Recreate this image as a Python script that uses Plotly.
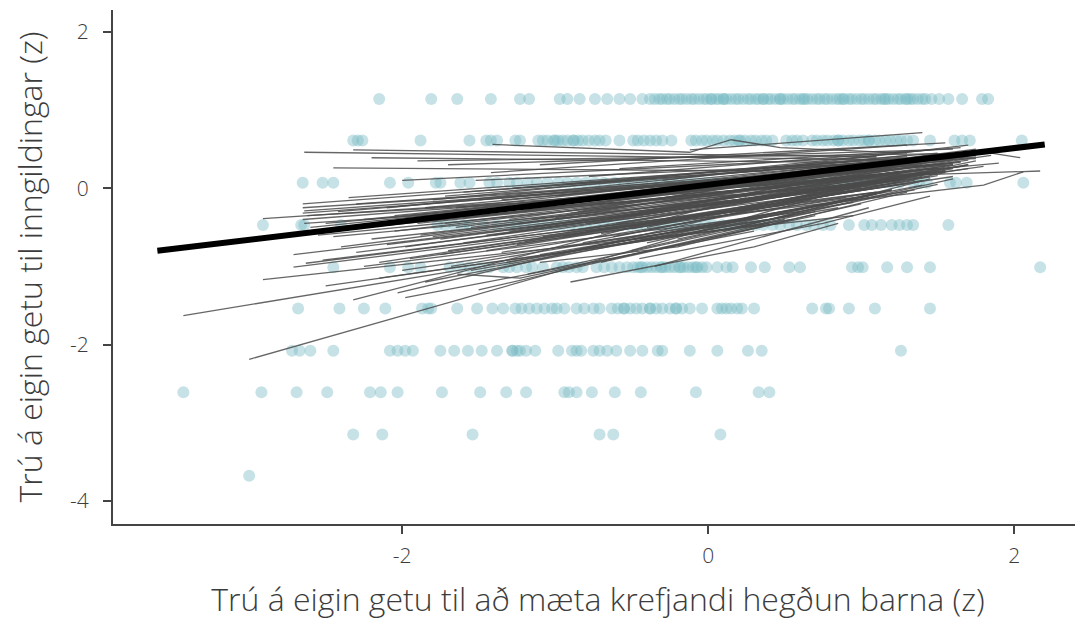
import plotly.graph_objects as go

# ---------------- data ----------------
x_ticks = [-2, 0, 2]
y_ticks = [2, 0, -2, -4]
x_title = "Trú á eigin getu til að mæta krefjandi hegðun barna (z)"
y_title = "Trú á eigin getu til inngildingar (z)"

# observed scores: y level -> x values
lvl_1 = [-2.15, -1.81, -1.64, -1.42, -1.23, -1.17, -0.97, -0.92, -0.84, -0.74, -0.66, -0.58, -0.51, -0.43, -0.38,
         -0.35, -0.32, -0.30, -0.27, -0.25, -0.22, -0.19, -0.17, -0.14, -0.11, -0.09, -0.06, -0.03, -0.01, 0.02,
         0.05, 0.07, 0.10, 0.12, 0.15, 0.18, 0.20, 0.23, 0.26, 0.28, 0.31, 0.33, 0.36, 0.39, 0.41, 0.44, 0.47,
         0.49, 0.52, 0.55, 0.57, 0.60, 0.63, 0.65, 0.68, 0.71, 0.73, 0.76, 0.78, 0.81, 0.84, 0.86, 0.89, 0.92,
         0.94, 0.97, 1.00, 1.02, 1.05, 1.08, 1.10, 1.13, 1.16, 1.18, 1.21, 1.24, 1.26, 1.29, 1.32, 1.34, 1.37,
         1.40, 1.42, 1.46, 0.10, 0.36, 0.62, 0.88, 1.15, 1.30, 0.02, 0.47, 1.51, 1.57, 1.66, 1.79, 1.83]
lvl_2 = [-2.32, -2.29, -2.26, -1.88, -1.56, -1.45, -1.42, -1.38, -1.26, -1.23,
         -1.11, -1.08, -1.05, -1.01, -0.98, -0.95, -0.92, -0.88, -0.85, -0.82, -0.78, -0.74, -0.71, -0.67,
         -0.58, -0.49, -0.46, -0.42, -0.38, -0.34, -0.30, -0.24,
         -0.11, -0.08, -0.04, -0.01, 0.03, 0.06, 0.10, 0.14, 0.17, 0.21, 0.24, 0.28, 0.31, 0.35, 0.38, 0.42,
         0.51, 0.55, 0.58, 0.62,
         0.68, 0.71, 0.75, 0.78, 0.82, 0.85, 0.88, 0.92, 0.95, 0.99, 1.02, 1.05, 1.09, 1.12, 1.16, 1.19, 1.23,
         1.26, 1.30, 1.34, 1.45, 1.61, 1.66, 1.71, 2.05, -1.00, -0.88, 0.20, 0.85, 1.05]
lvl_3 = [-2.65, -2.52, -2.45, -2.08, -1.96, -1.78, -1.75, -1.62, -1.56,
         -1.43, -1.38, -1.30, -1.25, -1.18, -1.12, -1.05, -0.98, -0.92, -0.86, -0.80, -0.74, -0.68, -0.61,
         -0.55, -0.50, -0.43, -0.37, -0.31, -0.25, -0.19, -0.13, -0.07, -0.01, 0.05, 0.11, 0.17, 0.23, 0.29,
         0.35, 0.41, 0.47, 0.53, 0.59, 0.65, 0.71, 0.77, 0.83, 0.89, 0.95, 1.01, 1.07, 1.13, 1.19, 1.25,
         1.34, 1.38, 1.43, 1.58, 1.62, 1.69, 2.06]
lvl_4 = [-2.91, -2.66, -2.64, -2.40, -1.77, -1.72, -1.66, -1.60, -1.56, -1.47, -1.38,
         -1.30, -1.25, -1.20, -1.14, -1.08, -1.02, -0.96, -0.90, -0.85, -0.80, -0.74, -0.68, -0.63, -0.57,
         -0.52, -0.46, -0.41, -0.35, -0.30, -0.24, -0.19, -0.13, -0.08, -0.02, 0.03, 0.09, 0.14, 0.20, 0.25,
         0.31, 0.36, 0.42, 0.47, 0.53, 0.58, 0.64, 0.69, 0.75, 0.80, 0.92, 1.02, 1.07, 1.13, 1.20, 1.25,
         1.30, 1.34, 1.57]
lvl_5 = [-2.45, -2.08, -1.96, -1.88, -1.69, -1.62, -1.56, -1.49, -1.43, -1.34, -1.30, -1.25, -1.19, -1.15,
         -1.08, -0.99, -0.95, -0.91, -0.86, -0.82, -0.73, -0.68, -0.63, -0.58, -0.53,
         -0.49, -0.46, -0.43, -0.40, -0.37, -0.34, -0.31, -0.28, -0.25, -0.22, -0.19, -0.16, -0.13, -0.10,
         -0.07, -0.04, -0.01, -0.44, -0.30, -0.18, -0.08,
         0.06, 0.12, 0.16, 0.28, 0.37, 0.53, 0.60, 0.94, 0.98, 1.01, 1.17, 1.30, 1.45, 2.17]
lvl_6 = [-2.68, -2.41, -2.25, -2.11, -1.87, -1.83, -1.81, -1.64, -1.51, -1.41, -1.34, -1.26, -1.22, -1.17,
         -1.12, -1.07, -1.02, -0.99, -0.94, -0.86, -0.81, -0.75, -0.71, -0.63, -0.59, -0.55, -0.51, -0.47,
         -0.43, -0.38, -0.34, -0.30, -0.25, -0.21, -0.17, -0.12, -0.04, 0.06, 0.09, 0.12, 0.15, 0.19, 0.22,
         0.30, 0.68, 0.77, 0.79, 0.92, 1.09, 1.45, -0.55, -0.38, -0.21]
lvl_7 = [-2.72, -2.67, -2.60, -2.45, -2.08, -2.03, -1.98, -1.93, -1.75, -1.66, -1.57, -1.48, -1.38, -1.28,
         -1.23, -1.19, -1.13, -0.98, -0.89, -0.86, -0.83, -0.75, -0.71, -0.66, -0.60, -0.51, -0.43, -0.33,
         -0.30, -0.12, 0.06, 0.26, 0.35, 1.26, -1.28, -1.25]
lvl_8 = [-3.43, -2.92, -2.69, -2.49, -2.21, -2.14, -2.03, -1.74, -1.49, -1.32, -1.19, -0.94, -0.91, -0.86,
         -0.76, -0.61, -0.44, -0.08, 0.33, 0.40]
lvl_9 = [-2.32, -2.13, -1.54, -0.71, -0.62, 0.08]
lvl_10 = [-3.00]
level_values = [1.14, 0.61, 0.07, -0.47, -1.01, -1.54, -2.08, -2.61, -3.15, -3.68]
level_points = [lvl_1, lvl_2, lvl_3, lvl_4, lvl_5, lvl_6, lvl_7, lvl_8, lvl_9, lvl_10]

# per-person fitted lines: list of vertices (x, y)
grey_lines = [
    [(-3.43, -1.63), (0.55, -0.35)],
    [(-3.00, -2.19), (1.25, 0.18)],
    [(-2.91, -0.39), (0.85, 0.10)],
    [(-2.91, -1.17), (0.95, -0.35)],
    [(-2.71, -0.85), (0.60, -0.08)],
    [(-2.65, -0.20), (1.40, 0.38)],
    [(-2.65, -0.25), (1.05, 0.22)],
    [(-2.64, -0.29), (1.60, 0.30)],
    [(-2.62, -0.35), (0.80, 0.04)],
    [(-2.64, 0.46), (1.30, 0.36)],
    [(-2.32, 0.49), (1.10, 0.40)],
    [(-2.20, 0.39), (0.90, 0.33)],
    [(-2.45, 0.26), (0.40, 0.22)],
    [(-2.40, -0.75), (1.20, 0.15)],
    [(-2.32, -1.43), (0.25, -0.12)],
    [(-2.03, -1.34), (0.90, 0.02)],
    [(-2.71, -1.01), (0.50, -0.22)],
    [(-2.63, -0.96), (1.10, -0.05)],
    [(-2.52, -0.92), (0.90, -0.12)],
    [(-2.55, -0.60), (1.30, 0.12)],
    [(-2.50, -0.45), (1.50, 0.25)],
    [(-2.42, -0.30), (1.20, 0.30)],
    [(-2.35, -0.52), (1.45, 0.20)],
    [(-2.30, -0.82), (1.00, -0.02)],
    [(-2.25, -0.40), (1.65, 0.33)],
    [(-2.20, -0.65), (0.70, -0.05)],
    [(-2.15, -0.95), (1.35, 0.10)],
    [(-2.10, -0.25), (1.30, 0.42)],
    [(-2.05, -0.55), (1.55, 0.28)],
    [(-2.00, -1.05), (0.60, -0.30)],
    [(-1.98, -0.75), (1.40, 0.15)],
    [(-1.95, -0.35), (1.75, 0.45)],
    [(-1.90, 0.35), (1.85, 0.45), (2.04, 0.39)],
    [(-1.88, -0.60), (1.20, 0.12)],
    [(-1.85, -1.20), (0.80, -0.20)],
    [(-1.80, -0.15), (1.50, 0.50)],
    [(-1.75, -0.85), (1.60, 0.15)],
    [(-1.72, -0.45), (1.10, 0.18)],
    [(-1.70, 0.30), (1.60, 0.50)],
    [(-1.68, -1.00), (1.35, -0.02)],
    [(-1.65, -0.25), (1.45, 0.40)],
    [(-1.64, -1.10), (-1.23, -1.15), (0.70, -0.35)],
    [(-1.60, -0.70), (1.70, 0.25)],
    [(-1.55, -0.50), (0.95, 0.10)],
    [(-1.52, 0.10), (1.75, 0.38)],
    [(-1.50, -1.30), (0.50, -0.40)],
    [(-1.48, -0.35), (1.55, 0.35)],
    [(-1.45, -0.80), (1.25, 0.05)],
    [(-1.42, 0.20), (1.30, 0.55)],
    [(-1.41, 0.56), (-0.12, 0.46), (0.15, 0.62), (0.47, 0.52), (1.30, 0.45)],
    [(-1.40, -0.60), (1.80, 0.28)],
    [(-1.35, -0.15), (1.40, 0.30)],
    [(-1.32, -0.95), (1.05, -0.10)],
    [(-1.30, -0.40), (1.65, 0.42)],
    [(-1.28, 0.00), (1.50, 0.45)],
    [(-1.25, -0.72), (1.40, 0.10)],
    [(-1.20, -0.28), (1.20, 0.25)],
    [(-1.18, -1.10), (0.70, -0.30)],
    [(-1.15, -0.50), (1.60, 0.32)],
    [(-1.10, 0.30), (1.55, 0.58)],
    [(-1.08, -0.62), (1.35, 0.18)],
    [(-1.05, -0.20), (1.75, 0.50)],
    [(-1.02, -0.85), (1.15, -0.05)],
    [(-1.00, -0.38), (1.45, 0.36)],
    [(-0.95, 0.05), (1.30, 0.40)],
    [(-0.92, -0.55), (1.70, 0.30)],
    [(-0.90, -1.20), (0.30, -0.75), (0.85, -0.45)],
    [(-0.85, -0.30), (1.50, 0.44)],
    [(-0.82, -0.70), (1.25, 0.08)],
    [(-0.78, 0.15), (1.65, 0.52)],
    [(-0.75, -0.45), (1.40, 0.24)],
    [(-0.70, -0.95), (1.00, -0.20)],
    [(-0.65, -0.15), (1.80, 0.46)],
    [(-0.62, -0.62), (1.55, 0.20)],
    [(-0.60, -0.45), (1.36, 0.17), (2.17, 0.22)],
    [(-0.58, 0.25), (1.35, 0.48)],
    [(-0.55, -0.35), (1.25, 0.28)],
    [(-0.50, -0.80), (1.60, 0.12)],
    [(-0.45, -0.05), (1.45, 0.38)],
    [(-0.40, -0.50), (1.75, 0.35)],
    [(-0.35, -1.00), (1.05, -0.25)],
    [(-0.30, 0.10), (1.70, 0.55)],
    [(-0.25, -0.25), (1.30, 0.32)],
    [(-0.20, -0.65), (1.50, 0.05)],
    [(-0.12, 0.49), (1.40, 0.71)],
    [(-0.10, -0.40), (1.60, 0.25)],
    [(-0.80, -0.55), (1.80, 0.04), (2.06, 0.21)],
    [(0.00, -0.10), (1.85, 0.42)],
    [(0.10, -0.55), (1.45, 0.12)],
    [(0.20, -0.25), (1.70, 0.30)],
    [(-1.60, -0.05), (1.25, 0.35)],
    [(-2.00, 0.10), (1.10, 0.40)],
    [(-1.25, -0.45), (0.60, 0.00)],
    [(-0.95, -0.75), (0.40, -0.40), (1.20, -0.02)],
    [(-1.75, -0.65), (0.95, 0.05)],
    [(-2.25, -1.00), (0.20, -0.40)],
    [(-0.45, -0.90), (0.75, -0.45), (1.45, -0.10)],
    [(-1.10, -0.95), (-0.20, -0.75), (1.30, -0.05)],
    [(-2.60, -0.50), (0.95, 0.20)],
    [(-1.55, -0.30), (1.90, 0.32)],
    [(-2.65, -0.32), (1.20, 0.25)],
    [(-2.65, -0.40), (1.55, 0.22)],
    [(-2.64, -0.45), (0.95, 0.02)],
    [(-2.30, -0.20), (1.45, 0.30)],
    [(-2.20, -0.48), (1.30, 0.18)],
    [(-2.10, -0.72), (1.15, 0.05)],
    [(-2.05, -0.35), (1.60, 0.36)],
    [(-1.95, -0.90), (0.95, -0.12)],
    [(-1.90, -0.45), (1.40, 0.22)],
    [(-1.85, -0.25), (1.70, 0.40)],
    [(-1.80, -0.62), (1.25, 0.10)],
    [(-1.72, -0.10), (1.35, 0.38)],
    [(-1.70, -0.80), (1.10, -0.05)],
    [(-1.65, -0.50), (1.50, 0.26)],
    [(-1.60, -0.38), (1.65, 0.34)],
    [(-1.55, -1.05), (0.85, -0.25)],
    [(-1.50, -0.15), (1.20, 0.36)],
    [(-1.45, -0.60), (1.45, 0.15)],
    [(-1.40, -0.30), (1.75, 0.40)],
    [(-1.35, -0.82), (1.20, -0.02)],
    [(-1.30, -0.55), (1.55, 0.22)],
    [(-1.25, -0.20), (1.40, 0.34)],
    [(-1.20, -0.68), (1.30, 0.06)],
    [(-1.15, -0.40), (1.70, 0.36)],
    [(-1.10, -0.85), (0.95, -0.18)],
    [(-1.05, -0.50), (1.45, 0.20)],
    [(-1.00, -0.10), (1.60, 0.45)],
    [(-0.95, -0.62), (1.25, 0.10)],
    [(-0.90, -0.32), (1.55, 0.32)],
    [(-0.85, -0.78), (1.10, -0.08)],
    [(-0.80, -0.45), (1.65, 0.28)],
    [(-0.75, -0.20), (1.35, 0.36)],
    [(-0.70, -0.58), (1.50, 0.16)],
    [(-0.65, -0.38), (1.25, 0.22)],
    [(-0.60, -0.72), (1.40, 0.04)],
    [(-0.55, -0.12), (1.75, 0.42)],
    [(-0.50, -0.52), (1.30, 0.14)],
    [(-0.45, -0.30), (1.60, 0.30)],
    [(-0.40, -0.70), (1.20, -0.02)],
    [(-0.35, -0.45), (1.45, 0.20)],
    [(-2.45, -0.62), (1.00, 0.00)],
    [(-2.35, -0.12), (1.25, 0.38)],
    [(-2.15, -1.15), (0.55, -0.40)],
    [(-1.98, -1.40), (0.30, -0.55)],
    [(-2.50, -1.25), (0.40, -0.45)],
]

# overall (fixed-effect) regression line end points
fixed_x = [-3.60, 2.20]
fixed_y = [-0.80, 0.56]

# ---------------- figure ----------------
fig = go.Figure()

px_, py_ = [], []
for lv, xs in zip(level_values, level_points):
    px_.extend(xs)
    py_.extend([lv] * len(xs))
fig.add_trace(go.Scatter(
    x=px_, y=py_, mode="markers",
    marker=dict(size=12, color="rgba(120,186,196,0.42)", line=dict(width=0)),
    hoverinfo="skip", showlegend=False))

lx, ly = [], []
for ln in grey_lines:
    for (a, b) in ln:
        lx.append(a)
        ly.append(b)
    lx.append(None)
    ly.append(None)
fig.add_trace(go.Scatter(
    x=lx, y=ly, mode="lines",
    line=dict(color="rgba(75,75,75,0.85)", width=1.3),
    hoverinfo="skip", showlegend=False, connectgaps=False))

fig.add_trace(go.Scatter(
    x=fixed_x, y=fixed_y, mode="lines",
    line=dict(color="black", width=6),
    hoverinfo="skip", showlegend=False))

font_family = "Open Sans"
text_col = "#3c3c3c"
axis_common = dict(
    showgrid=False, zeroline=False, showline=True, linecolor="#444444", linewidth=2,
    ticks="outside", ticklen=8, tickwidth=2, tickcolor="#444444", automargin=False,
    tickfont=dict(family=font_family, size=21, color=text_col, weight=300),
)
# page body adds an 8px offset, so the figure is drawn 8px smaller
fig.update_layout(
    width=1075, height=616,
    margin=dict(l=105, r=0, t=2, b=100),
    paper_bgcolor="white", plot_bgcolor="white",
    font=dict(family=font_family, weight=300),
    xaxis=dict(range=[-3.89, 2.45], tickvals=x_ticks, ticktext=[str(v) for v in x_ticks],
               ticklabelstandoff=4,
               title=dict(text=x_title, font=dict(family=font_family, size=32, color=text_col, weight=300),
                          standoff=20),
               **axis_common),
    yaxis=dict(range=[-4.296, 2.28], tickvals=y_ticks, ticktext=[str(v) for v in y_ticks],
               ticklabelstandoff=10,
               title=dict(text=y_title, font=dict(family=font_family, size=32, color=text_col, weight=300),
                          standoff=23),
               **axis_common),
)

fig.write_html("out.html")
